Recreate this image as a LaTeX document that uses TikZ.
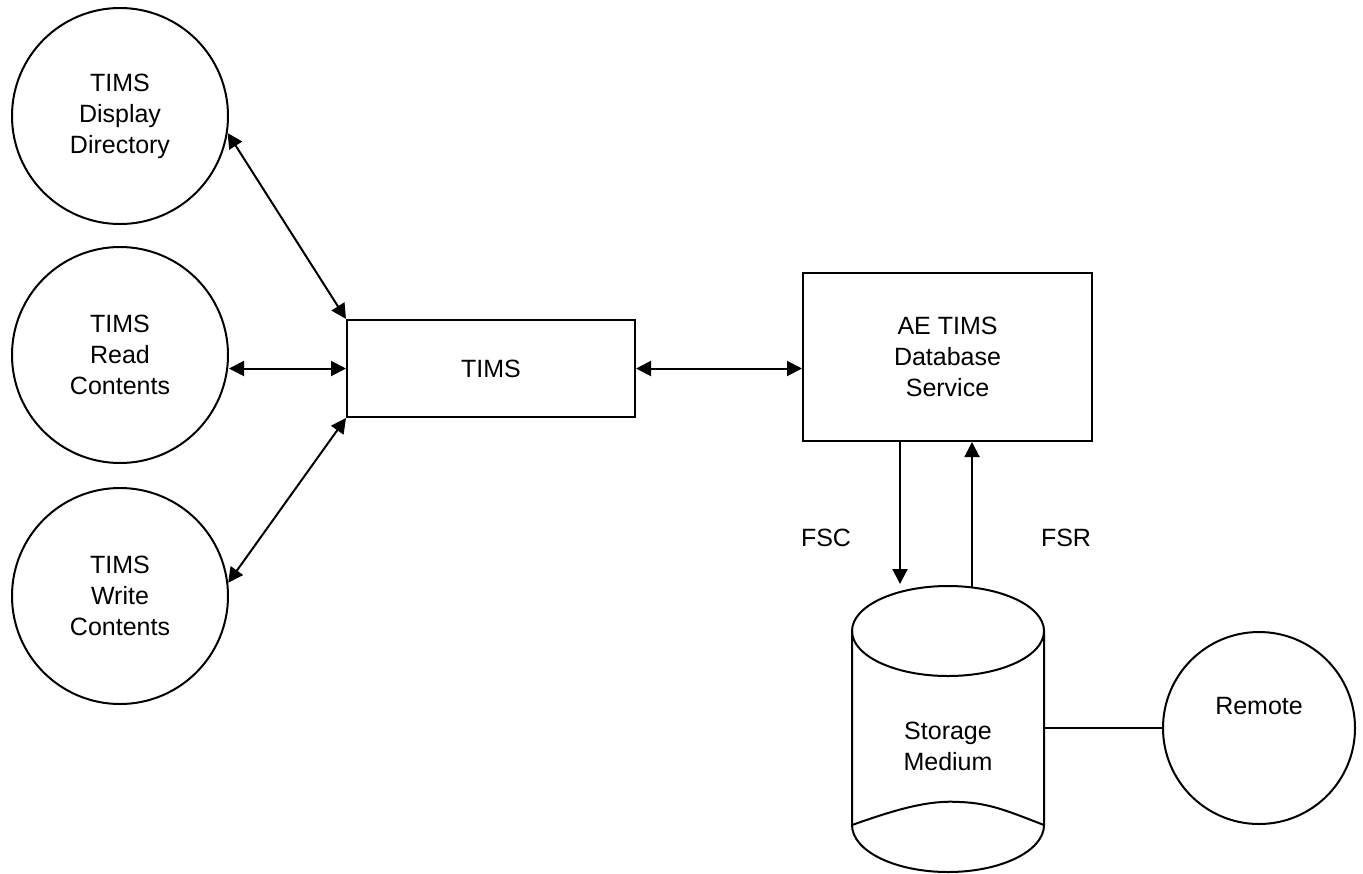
\documentclass[tikz,border=0pt]{standalone}
\usepackage{fontspec}
\setmainfont{Liberation Sans}
\usepackage{tikz}
\usetikzlibrary{shapes,arrows,arrows.meta,positioning}

\tikzset{
    txt/.style={font=\fontsize{12.5}{15.5}\selectfont, align=center},
    bubble/.style={txt, circle, draw, line width=1pt, inner sep=0pt, minimum size=108pt},
    procbox/.style={txt, rectangle, draw, line width=1pt, inner sep=0pt},
    link/.style={line width=1pt},
    >={Triangle[length=7.5pt,width=7.5pt]}
}

\begin{document}
\begin{tikzpicture}[x=0.5pt,y=-0.5pt]
        \useasboundingbox (0,0) rectangle (1363,873);

        % Client processes
        \node[bubble] (disp) at (120,116) {TIMS\\Display\\Directory};
        \node[bubble] (read) at (120,355) {TIMS\\Read\\Contents};
        \node[bubble] (write) at (120,596) {TIMS\\Write\\Contents};

        % TIMS and database service
        \node[procbox, minimum width=144pt, minimum height=48.5pt] (tims) at (491,368.5) {TIMS};
        \node[procbox, minimum width=144.5pt, minimum height=84pt] (ae) at (947.5,357) {AE TIMS\\Database\\Service};

        % Links to TIMS
        \draw[link, <->] (disp.-9) -- (tims.north west);
        \draw[link, <->] (read.east |- tims.west) -- (tims.west);
        \draw[link, <->] (write.7) -- (tims.south west);
        \draw[link, <->] (tims.east) -- (tims.east -| ae.west);

        % Storage medium
        \draw[link] (948,631) ellipse [x radius=48pt, y radius=22.5pt];
        \draw[link] (852,631) -- (852,825) arc[start angle=180, end angle=360, x radius=48pt, y radius=23.5pt] -- (1044,631);
        \draw[link] (852,825) .. controls (900,808) and (930,800) .. (960,802)
                             .. controls (990,803) and (1010,812) .. (1044,825);
        \node[txt] (stor) at (948,746) {Storage\\Medium};
        \coordinate (cyl in) at (900,584);
        \coordinate (cyl out) at (972,587);
        \coordinate (cyl east) at (1044,728);

        % File service call and reply
        \draw[link, ->] (ae.south -| cyl in) -- (cyl in);
        \draw[link, ->] (cyl out) -- (cyl out |- ae.south);
        \node[txt] (fsc) at (826,538) {FSC};
        \node[txt] (fsr) at (1066,538) {FSR};

        % Remote
        \node[bubble, minimum size=96pt] (remote) at (1259,728) {};
        \node[txt] (remlabel) at ([yshift=11pt]remote.center) {Remote};
        \draw[link] (cyl east) -- (remote.west);
    \end{tikzpicture}
\end{document}
